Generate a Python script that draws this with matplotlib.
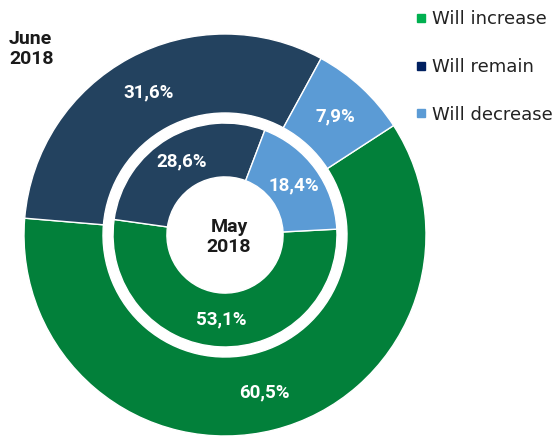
import matplotlib
matplotlib.use("Agg")
import matplotlib.pyplot as plt
from matplotlib.lines import Line2D

# data
categories = ["Will increase", "Will remain", "Will decrease"]
june_2018 = [60.5, 31.6, 7.9]
may_2018 = [53.1, 28.6, 18.4]

ring_colors = ["#02803a", "#23425f", "#5b9bd5"]
legend_colors = ["#00b050", "#002060", "#5b9bd5"]

plt.rcParams["font.family"] = ["Roboto", "DejaVu Sans"]

fig = plt.figure(figsize=(5.58, 4.40), dpi=100)
ax = fig.add_axes([24 / 558, 4 / 440, 402 / 558, 402 / 440])


def fmt_from(values):
    # show the published value, not the renormalised share
    it = iter(values)
    return lambda p: f"{next(it):.1f}%".replace(".", ",")


# outer ring = June 2018
_, _, outer_txt = ax.pie(june_2018, radius=1.0, startangle=33, counterclock=False,
                         colors=ring_colors, autopct=fmt_from(june_2018), pctdistance=0.806,
                         wedgeprops=dict(width=0.393, edgecolor="white", linewidth=1))
# inner ring = May 2018
_, _, inner_txt = ax.pie(may_2018, radius=0.557, startangle=3, counterclock=False,
                         colors=ring_colors, autopct=fmt_from(may_2018), pctdistance=0.759,
                         wedgeprops=dict(width=0.268, edgecolor="white", linewidth=1))

for t in outer_txt + inner_txt:
    t.set_color("white")
    t.set_fontweight("bold")
    t.set_fontsize(13.5)

ax.set_xlim(-1, 1)
ax.set_ylim(-1, 1)
ax.set_aspect("equal")
ax.axis("off")

ax.text(0.02, -0.01, "May\n2018", ha="center", va="center", fontsize=14,
        fontweight="bold", color="#1a1a1a", linespacing=1.1)
fig.text(9 / 558, 1 - 49 / 440, "June\n2018", ha="left", va="center", fontsize=14,
         fontweight="bold", color="#1a1a1a", linespacing=1.1)

handles = [Line2D([], [], marker="s", linestyle="none", markersize=6,
                  markerfacecolor=c, markeredgecolor=c) for c in legend_colors]
fig.legend(handles, categories, loc="upper left", bbox_to_anchor=(407 / 558, 1 - 3 / 440),
           frameon=False, labelspacing=1.65, handletextpad=0.2,
           handlelength=0.8, borderaxespad=0, labelcolor="#222222",
           prop={"family": ["DejaVu Sans"], "size": 13})

fig.savefig("out.png", dpi=100)
